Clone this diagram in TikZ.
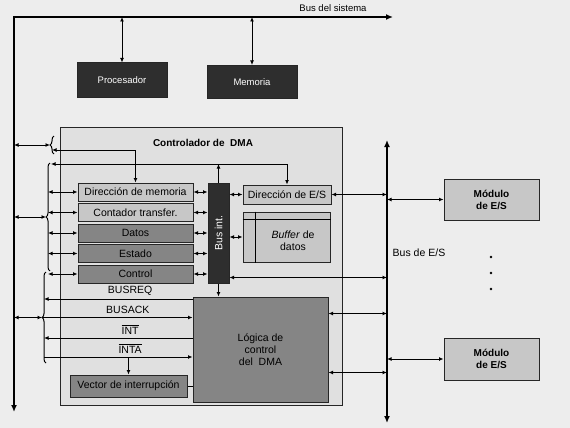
\documentclass[tikz,border=0pt]{standalone}
\usepackage{fontspec}
\setmainfont{Liberation Sans}
\usetikzlibrary{arrows.meta,calc,decorations.pathreplacing}

\begin{document}
\begin{tikzpicture}[x=1pt,y=-1pt,line width=1pt,>={Latex[length=4.5pt,width=4pt]},
	font=\fontsize{10.5}{12}\selectfont]
	\tikzset{
		caja/.style 2 args={draw=black!85,minimum width=#1,minimum height=#2,inner sep=1pt},
		oscuro/.style={fill=black!82,text=white},
		claro/.style={fill=black!22},
		medio/.style={fill=black!48},
		chico/.style={font=\fontsize{9.5}{11}\selectfont},
		bus/.style={line width=2pt,arrows={Latex[length=7pt,width=6pt]-Latex[length=7pt,width=6pt]}},
		llave/.style={decorate,decoration={brace,amplitude=4pt}}
	}
	\fill[black!7] (0,0) rectangle (570,428);
	% bus del sistema
	\coordinate (esq) at (14,17);
	\coordinate (sysder) at (393,17);
	\coordinate (sysabj) at (14,412);
	\draw[bus] (sysder) -- (esq) -- (sysabj);
	\node[anchor=south,chico] (tsys) at (333,15) {Bus del sistema};
	\node[caja={90pt}{34pt},oscuro,chico] (proc) at (122,80) {Procesador};
	\node[caja={90pt}{33pt},oscuro,chico] (mem) at (252,82) {Memoria};
	\draw[<->] (proc.north) -- (proc.north |- esq);
	\draw[<->] (mem.north) -- (mem.north |- esq);
	% controlador
	\node[caja={282pt}{278pt},fill=black!12] (dma) at (201,266) {};
	\node[font=\bfseries] (tdma) at (203,143) {Controlador de\ \ DMA};
	\node[caja={115pt}{18pt},claro] (dirmem) at (135.5,192) {Dirección de memoria};
	\node[caja={115pt}{18pt},claro] (cont) at (135.5,212.5) {Contador transfer.};
	\node[caja={115pt}{18pt},medio] (datos) at (135.5,233) {Datos};
	\node[caja={115pt}{18pt},medio] (estado) at (135.5,253.5) {Estado};
	\node[caja={115pt}{18pt},medio] (control) at (135.5,274) {Control};
	\node[caja={21pt}{100pt},oscuro] (busint) at (218.5,233) {};
	\node[rotate=90,text=white] (tbus) at (busint) {Bus int.};
	\node[caja={88pt}{19pt},claro] (dires) at (287,194.5) {Dirección de E/S};
	\node[caja={87pt}{50pt},claro] (buffer) at (286.5,237) {};
	\draw ($(buffer.north west)+(0,8)$) -- ($(buffer.north east)+(0,8)$)
		($(buffer.north west)+(13,0)$) -- ($(buffer.south west)+(13,0)$);
	\node[align=center] (tbuf) at (293,241) {\textit{Buffer} de\\datos};
	\node[caja={135pt}{105pt},medio,align=center] (logica) at (260.5,349.5) {Lógica de\\control\\del\ \ DMA};
	\node[caja={117pt}{22pt},medio] (vector) at (128.5,386) {Vector de interrupción};
	\foreach \r in {dirmem,cont,datos,estado,control}
		\draw[<->] (\r.east) -- (\r.east -| busint.west);
	\draw[<->] (dires.west) -- (dires.west -| busint.east);
	\draw[<->] (buffer.west) -- (buffer.west -| busint.east);
	\draw[->] (busint.south) -- (busint.south |- logica.north);
	% llaves
	\draw[llave] (54,154) -- (54,136);
	\draw[llave] (50,271) -- (50,163);
	\draw[llave] (46,363) -- (46,272);
	\coordinate (ll1) at (50,145);
	\coordinate (ll2) at (46,217);
	\coordinate (ll3) at (42,317.5);
	\coordinate (eje2) at (48,0);
	\foreach \c in {ll1,ll2,ll3}
		\draw[<->] (\c -| esq) -- (\c);
	\coordinate (la) at (52,150);
	\coordinate (lb) at (51,164);
	\draw[<->] (la) -- (la -| dirmem.north) -- (dirmem.north);
	\draw[<->] (lb) -- (lb -| dires.north) -- (dires.north);
	\draw[->] (busint.north) -- (busint.north |- lb);
	\foreach \r in {dirmem,cont,datos,estado,control}
		\draw[<->] (\r.west -| eje2) -- (\r.west);
	% senales
	\coordinate (sreq) at (44,299);
	\coordinate (sint) at (44,338);
	\coordinate (sinta) at (44,357);
	\draw[<-] (sreq) -- (sreq -| logica.west) node[pos=.58,above] (treq) {BUSREQ};
	\draw[->] (ll3) -- (ll3 -| logica.west) node[pos=.57,above] (tack) {BUSACK};
	\draw[<-] (sint) -- (sint -| logica.west) node[pos=.58,above] (tint) {$\overline{\mbox{INT}}$};
	\draw[->] (sinta) -- (sinta -| logica.west) node[pos=.58,above] (tinta) {$\overline{\mbox{INTA}}$};
	\draw[->] (sinta -| vector.north) -- (vector.north);
	\draw (vector.east) -- (vector.east -| logica.west);
	% bus de E/S
	\coordinate (ioarr) at (387,140);
	\coordinate (ioabj) at (387,423);
	\draw[bus] (ioarr) -- (ioabj);
	\node (tio) at (419,253) {Bus de E/S};
	\coordinate (bi) at ($(busint.south east)+(0,-6)$);
	\coordinate (lg1) at ($(logica.north east)+(0,17)$);
	\coordinate (lg2) at ($(logica.south east)+(0,-30)$);
	\draw[<->] (dires.east) -- (dires.east -| ioarr);
	\foreach \c in {bi,lg1,lg2}
		\draw[<->] (\c) -- (\c -| ioarr);
	\node[caja={95pt}{41pt},claro,font=\bfseries,align=center] (mod1) at (491.5,199.5) {Módulo\\de E/S};
	\node[caja={95pt}{42pt},claro,font=\bfseries,align=center] (mod2) at (491.5,359) {Módulo\\de E/S};
	\draw[<->] (mod1.west -| ioarr) -- (mod1.west);
	\draw[<->] (mod2.west -| ioarr) -- (mod2.west);
	\foreach \y in {257,273,289}
		\fill (491,\y) circle (1.4pt);
\end{tikzpicture}
\end{document}
